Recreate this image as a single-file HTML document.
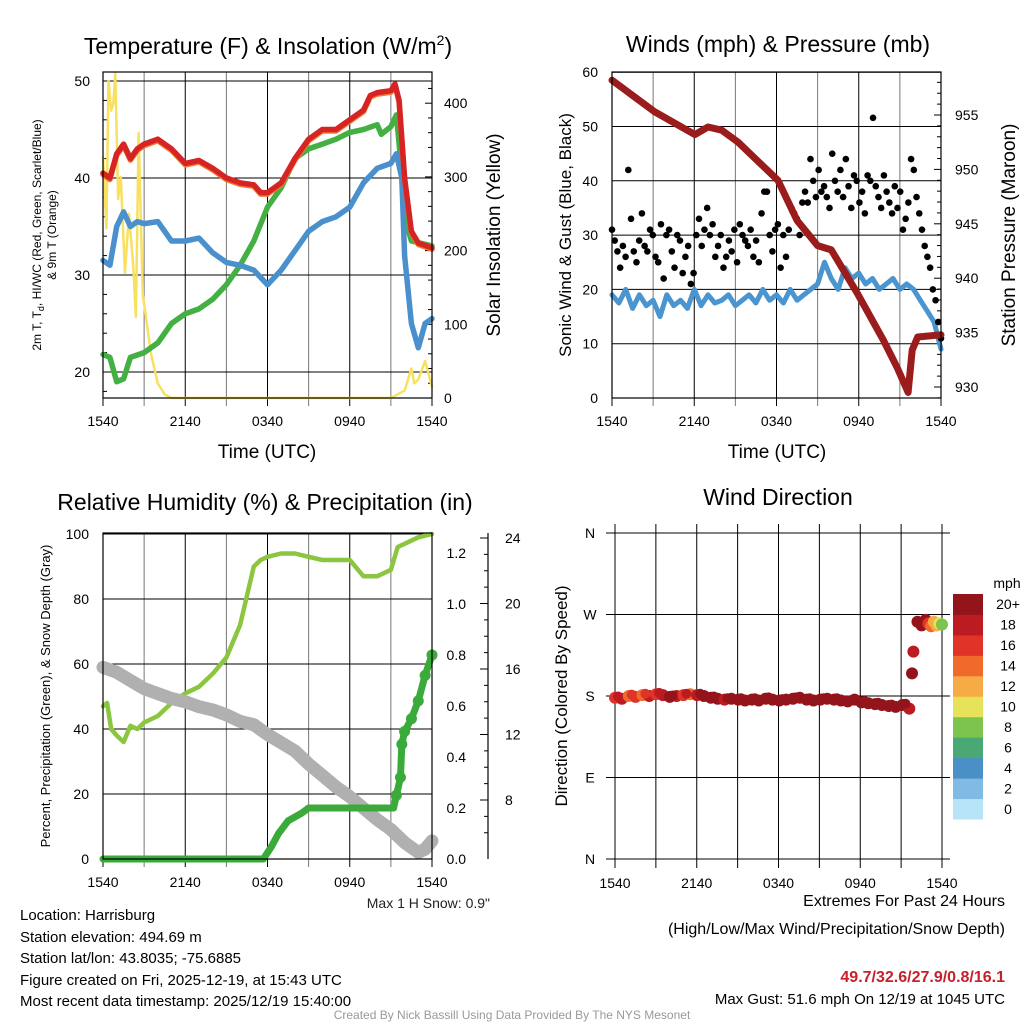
<!DOCTYPE html>
<html><head><meta charset="utf-8"><style>
html,body{margin:0;padding:0;background:#fff;width:1024px;height:1024px;overflow:hidden}
svg{display:block;font-family:"Liberation Sans",sans-serif}
</style></head><body>
<svg id="s" width="1024" height="1024" viewBox="0 0 1024 1024" xmlns="http://www.w3.org/2000/svg">
<g id="g"></g>
<text x="268" y="54" font-size="23" text-anchor="middle">Temperature (F) &amp; Insolation (W/m<tspan font-size="14" dy="-9">2</tspan><tspan dy="9">)</tspan></text>
<text x="778" y="52" font-size="23" text-anchor="middle">Winds (mph) &amp; Pressure (mb)</text>
<text x="265" y="510" font-size="23" text-anchor="middle">Relative Humidity (%) &amp; Precipitation (in)</text>
<text x="778" y="505" font-size="23" text-anchor="middle">Wind Direction</text>
<text x="267" y="458" font-size="19" text-anchor="middle">Time (UTC)</text>
<text x="777" y="458" font-size="19" text-anchor="middle">Time (UTC)</text>
<text transform="translate(41,235) rotate(-90)" font-size="12" text-anchor="middle">2m T, T<tspan font-size="9" dy="3">d</tspan><tspan dy="-3">, HI/WC (Red, Green, Scarlet/Blue)</tspan></text>
<text transform="translate(56,235) rotate(-90)" font-size="12" text-anchor="middle">&amp; 9m T (Orange)</text>
<text transform="translate(500,235) rotate(-90)" font-size="19" text-anchor="middle">Solar Insolation (Yellow)</text>
<text transform="translate(571,235) rotate(-90)" font-size="17" text-anchor="middle">Sonic Wind &amp; Gust (Blue, Black)</text>
<text transform="translate(1015,235) rotate(-90)" font-size="19" text-anchor="middle">Station Pressure (Maroon)</text>
<text transform="translate(50,696) rotate(-90)" font-size="13" text-anchor="middle">Percent, Precipitation (Green), &amp; Snow Depth (Gray)</text>
<text transform="translate(567,696) rotate(-90)" font-size="17" text-anchor="middle">Direction (Colored By Speed)</text>
<text x="490" y="908" font-size="14" text-anchor="end" fill="#222">Max 1 H Snow: 0.9"</text>
<text x="1007" y="588" font-size="14" text-anchor="middle">mph</text>
<g font-size="15">
<text x="20" y="920">Location: Harrisburg</text>
<text x="20" y="942">Station elevation: 494.69 m</text>
<text x="20" y="963">Station lat/lon: 43.8035; -75.6885</text>
<text x="20" y="985">Figure created on Fri, 2025-12-19, at 15:43 UTC</text>
<text x="20" y="1006">Most recent data timestamp: 2025/12/19 15:40:00</text>
</g>
<g text-anchor="end">
<text x="1005" y="906" font-size="16">Extremes For Past 24 Hours</text>
<text x="1005" y="934" font-size="16">(High/Low/Max Wind/Precipitation/Snow Depth)</text>
<text x="1005" y="982" font-size="16" font-weight="bold" fill="#c8202a">49.7/32.6/27.9/0.8/16.1</text>
<text x="1005" y="1004" font-size="15">Max Gust: 51.6 mph On 12/19 at 1045 UTC</text>
</g>
<text x="512" y="1019" font-size="12" fill="#999" text-anchor="middle">Created By Nick Bassill Using Data Provided By The NYS Mesonet</text>
</svg>
<script>
// ---- data ----
const xTickLabels = ["1540","2140","0340","0940","1540"];
const tempT   = [0,0.5,1,1.5,2,2.5,3,4,5,6,7,8,9,10,11,11.5,12,13,14,15,16,17,18,19,19.5,20,21,21.3,21.6,22,22.5,23,24];
const tempV   = [40.5,40,42.5,43.5,42,43,43.5,44,43,41.5,41.8,41,40,39.5,39.3,38.5,38.5,39.5,42,44,45,45,46,47,48.5,48.8,49,49.7,48,40,34.5,33.3,32.8];
const dewT    = [0,0.5,1,1.5,2,3,4,5,6,7,8,9,10,11,12,13,13.5,14,15,16,17,18,19,20,20.3,21,21.4,21.7,22,22.5,24];
const dewV    = [21.8,21.5,19,19.3,21.5,22,23,25,26,26.5,27.5,29,31,33.5,37,39,40.5,42,43,43.5,44,44.7,45,45.5,44.5,45.3,46.5,42,36,33.5,33];
const chillT  = [0,0.5,1,1.5,2,2.5,3,4,5,6,7,8,9,10,11,12,13,14,15,16,17,18,19,20,21,21.4,21.8,22,22.5,23,23.5,24];
const chillV  = [31.5,31,35,36.5,35,35.5,35.3,35.5,33.5,33.5,33.8,32.3,31.3,31,30.5,29,30.5,32.5,34.5,35.5,36,37,39.5,41,41.5,42.5,40,32,25,22.5,25,25.5];
const solT    = [0,0.25,0.4,0.6,0.75,0.9,1.1,1.3,1.6,1.9,2.2,2.4,2.6,2.9,3.2,3.5,4,4.5,5,12,21,21.5,22,22.5,22.7,23,23.5,24];
const solV    = [327,230,430,390,400,440,270,300,170,250,180,110,360,140,100,60,20,5,0,0,0,5,10,40,20,25,50,15];
const windV   = [19,17.5,20,16.5,19,17,18,15,19,17,18,16.5,20,17,19,17.5,18,19,17,18,19,17.5,20,18,19,17.5,20,18,19,20,21,25,22,20,24,22,23,21,22,20,21,22,20,21,20,18,16,14,9];
const gustV   = [31,29,27,24,28,26,42,33,27,25,29, 34,28,27,31,30,26,25,32,22,30, 31,27,24,30,29,23,26,28,21,23, 30,33,28,31,35,30,32,26,28,30, 24,26,29,27,31,25,32,30,29,28, 31,26,29,25,34,38,38,30,27,31, 32,24,30,26,31,35,34,33,30,36, 38,36,44,40,37,42,38,39,37,35, 45,40,38,42,37,44,39,35,41,40, 36,38,34,41,40,51.6,39,37,35,41, 38,36,34,39,35,38,31,33,36,44, 42,37,34,31,28,26,24,20,18,14,11];
const presT   = [0,3.1,6.05,7,8,9.2,12.1,13.5,15,16,17.9,19.8,20.8,21.6,21.9,22.3,24];
const presV   = [958.2,955.3,953.2,953.9,953.6,952.5,949,945.3,943,942.6,938.6,934.3,931.8,929.5,933.4,934.6,934.8];
const rhT     = [0,0.3,0.6,1,1.5,2,2.5,3,4,5,6,7,8,9,10,11,11.5,12,13,14,15,16,17,18,19,20,21,21.5,22,23,24];
const rhV     = [47,48,40,38,36,41,40,42,44,48,51,53,57,62,72,90,92,93,94,94,93,92,92,92,87,87,89,96,97,99,100];
const prT     = [0,2,4,6,8,10,11.7,12.3,12.8,13.5,14.5,15,17,19,21.2,21.4,21.7,21.8,22,22.5,23,23.5,24];
const prV     = [0,0,0,0,0,0,0,0.05,0.1,0.15,0.18,0.2,0.2,0.2,0.2,0.25,0.32,0.45,0.5,0.55,0.62,0.72,0.8];
const snowT   = [0,1,2,3,4,5,6,7,8,9,10,11,12,13,14,15,16,17,18,19,20,21,22,23,23.5,24];
const snowV   = [16.1,15.8,15.3,14.8,14.5,14.2,14,13.7,13.5,13.2,12.8,12.6,12,11.5,11,10.2,9.5,8.8,8.2,7.5,6.8,6.2,5.4,4.8,5,5.5];
const dirV    = [178,177,180,179,181,180,182,181,179,180,181,182,181,180,178,177,176,177,176,175,176,175,177,176,175,176,177,178,176,175,176,177,176,175,174,176,173,172,171,170,169,168,170,166];
const dirSpd  = [16,18,14,17,15,18,16,19,20,18,17,15,19,20,21,20,19,21,20,22,21,20,21,22,21,23,22,21,22,23,21,22,23,22,24,22,21,23,22,21,22,20,21,19];
const endT    = [21.8,21.9,22.2,22.5,22.8,23.0,23.2,23.4,23.6,23.8,24];
const endDir  = [205,229,262,258,264,260,257,262,258,260,259];
const endSpd  = [20,18,20,22,20,17,14,13,12,10,8];
const spdLabels = ["0","2","4","6","8","10","12","14","16","18","20+"];
const spdColors = ["#b8e4f8","#7fbbe4","#4a8fc6","#4aa874","#7cc44c","#e6e25a","#f6ab45","#f06a2c","#df3427","#bc1b22","#93151b"];

// ---- helpers ----
const NS="http://www.w3.org/2000/svg";
const G=document.getElementById('g');
function mk(tag,attrs){const e=document.createElementNS(NS,tag);for(const k in attrs)e.setAttribute(k,attrs[k]);G.appendChild(e);return e;}
function txt(x,y,s,anchor,size){const e=mk('text',{x:x,y:y,'font-size':size||14,'text-anchor':anchor||'middle'});e.textContent=s;return e;}
function path(xs,ys,color,w,name){
  let d='';for(let i=0;i<xs.length;i++)d+=(i?'L':'M')+xs[i].toFixed(1)+','+ys[i].toFixed(1);
  const p=mk('path',{d:d,fill:'none',stroke:color,'stroke-width':w,'stroke-linejoin':'round','stroke-linecap':'round'});
  
  
  return p;
}
function xAxis(L,R,T,B,grid6,name){
  for(let h=0;h<=24;h+=3){
    const x=L+h*(R-L)/24;
    const ln=mk('line',{x1:x,y1:T,x2:x,y2:B+8,stroke:(h%6===0||grid6)?'#000':'#777','stroke-width':1});
    
    
    if(h%6===0){const t=txt(x,B+28,xTickLabels[h/6]);
      
      }
  }
}
function hline(L,R,y,name,col){const l=mk('line',{x1:L,y1:y,x2:R,y2:y,stroke:col||'#000','stroke-width':1});
  
  }
function frame(L,T,R,B,name){const r=mk('rect',{x:L,y:T,width:R-L,height:B-T,fill:'none',stroke:'#000','stroke-width':1.2});
  
  }

// ---- Panel 1 ----
{
const L=103,R=432,T=72,B=398;
const X=t=>L+t*(R-L)/24, YL=v=>81+(50-v)*9.7, YR=w=>398-w*0.737;
xAxis(L,R,T,B,false,'temp');
[20,30,40,50].forEach(v=>{hline(L,R,YL(v),'temp-hgrid');
  const t=txt(L-13,YL(v)+5,String(v),'end');});
[0,100,200,300,400].forEach(v=>{const y=YR(v);
  const t=txt(R+12,y+5,String(v),'start');
  hline(R-7,R,y,'insolation-major-tick');});
for(let v=20;v<440;v+=20){if(v%100)hline(R-4,R,YR(v),'insolation-minor-tick');}
for(let v=18;v<=50;v+=2){if(v%10)hline(L,L+4,YL(v),'temp-minor-tick');}
path(solT.map(X),solV.map(YR),'#f8e060',2.5,'insolation-line');
path(dewT.map(X),dewV.map(YL),'#44b044',5.5,'dewpoint-line');
path(chillT.map(X),chillV.map(YL),'#4a90cc',5.5,'windchill-line');
path(tempT.map(X),tempV.map(v=>YL(v)+1.5),'#f47a30',5.5,'9m-temp-line');
path(tempT.map(X),tempV.map(YL),'#d62424',5.5,'temperature-line');
frame(L,T,R,B,'temp-frame');
}
// ---- Panel 2 ----
{
const L=612,R=941,T=72,B=398;
const X=t=>L+t*(R-L)/24, YW=v=>398-v*5.43, YP=p=>387-(p-930)*10.88;
xAxis(L,R,T,B,false,'wind');
[0,10,20,30,40,50,60].forEach(v=>{hline(L,R,YW(v),'wind-hgrid');
  const t=txt(L-14,YW(v)+5,String(v),'end');});
[930,935,940,945,950,955].forEach(v=>{const t=txt(R+14,YP(v)+5,String(v),'start');
  });
for(let p=929;p<=958;p++)hline(R-(p%5?4:7),R,YP(p),'pressure-tick');
const wt=windV.map((v,i)=>i*24/(windV.length-1));
path(wt.map(X),windV.map(YW),'#4a94d0',5,'sonic-wind-line');
gustV.forEach((v,i)=>{const c=mk('circle',{cx:X(i*24/(gustV.length-1)),cy:YW(v),r:3.3,fill:'#000'});
  
  });
path(presT.map(X),presV.map(YP),'#9a1c1c',7,'pressure-line');
frame(L,T,R,B,'wind-frame');
}
// ---- Panel 3 ----
{
const L=103,R=432,T=533,B=859;
const X=t=>L+t*(R-L)/24, YH=v=>859-v*3.25, YPr=p=>859-p*255, YS=s=>800-(s-8)*16.375;
xAxis(L,R,T,B,false,'rh');
[0,20,40,60,80,100].forEach(v=>{hline(L,R,YH(v),'rh-hgrid');
  const t=txt(L-14,YH(v)+5,String(v),'end');});
[0,0.2,0.4,0.6,0.8,1.0,1.2].forEach(v=>{const t=txt(466,YPr(v)+5,v.toFixed(1),'end');
  });
const ax=mk('line',{x1:488,y1:533,x2:488,y2:859,stroke:'#000','stroke-width':1.2});


for(let s=6;s<=25;s++){const y=YS(s);if(y<533||y>859)continue;hline(s%4?484:480,488,y,'snow-tick');}
[8,12,16,20,24].forEach(v=>{const t=txt(505,YS(v)+5,String(v),'start');
  });
path(rhT.map(X),rhV.map(YH),'#8cc640',4.5,'humidity-line');
path(snowT.map(X),snowV.map(YS),'#b0b0b0',13,'snow-depth-line');
path(prT.map(X),prV.map(YPr),'#3aaa3a',7,'precip-line');
prT.forEach((t,i)=>{if(t<21.3)return;const c=mk('circle',{cx:X(t),cy:YPr(prV[i]),r:5.5,fill:'#3aaa3a'});
  
  });
frame(L,T,R,B,'rh-frame');
}
// ---- Panel 4 ----
{
const L=615,R=942,T=533,B=859;
const X=t=>L+t*(R-L)/24, YD=d=>859-d*326/360;
for(let h=0;h<=24;h+=3){const x=X(h);const l=mk('line',{x1:x,y1:524,x2:x,y2:868,stroke:'#000','stroke-width':1});
  
  if(h%6===0){const t=txt(x,B+29,xTickLabels[h/6]);}}
["N","E","S","W","N"].forEach((s,i)=>{const y=YD(i*90);hline(606,950,y,'direction-hgrid');
  const t=txt(590,y+5,s,'middle');});
const ci=s=>spdColors[Math.min(10,Math.floor(s/2))];
const dt=dirV.map((v,i)=>i*21.6/(dirV.length-1));
dirV.forEach((d,i)=>{const c=mk('circle',{cx:X(dt[i]),cy:YD(d),r:6,fill:ci(dirSpd[i])});
  
  });
dirV.forEach((d,i)=>{if(i%2)return;const c=mk('circle',{cx:X(dt[i])+3,cy:YD(d+1.5),r:5,fill:ci(dirSpd[i]+2)});
  
  });
endT.forEach((t,i)=>{const c=mk('circle',{cx:X(t),cy:YD(endDir[i]),r:6,fill:ci(endSpd[i])});
  
  });
const bh=(819-594)/11;
spdColors.forEach((col,i)=>{const y=819-(i+1)*bh;
  const r=mk('rect',{x:953,y:y,width:30,height:bh+0.5,fill:col});
  
  
  const t=txt(1008,y+bh/2+5,spdLabels[i],'middle');
  
  });
}
</script>
</body></html>
